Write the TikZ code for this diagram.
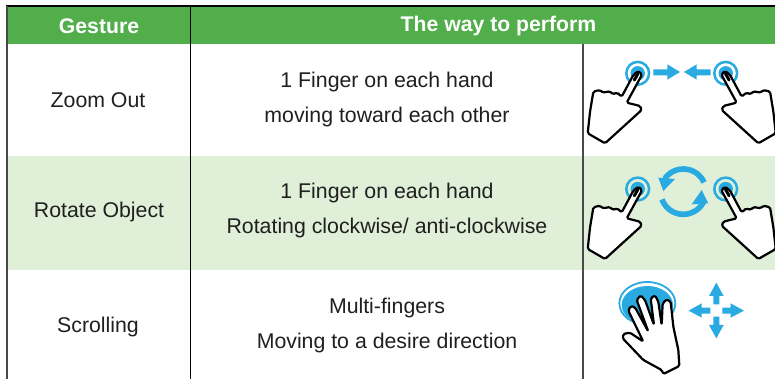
\documentclass[tikz,border=0pt]{standalone}
\usepackage{fontspec}
\setmainfont{Liberation Sans}
\definecolor{hdrgreen}{HTML}{51AE4A}
\definecolor{rowgreen}{HTML}{DFEFD8}
\definecolor{gblue}{HTML}{29ABE2}
\definecolor{rule}{HTML}{4A4A4A}
\tikzset{
  cell/.style={font=\fontsize{21.3}{25}\selectfont,text=black!88,align=center,inner sep=0pt},
  hdr/.style={font=\fontsize{21.2}{25}\selectfont\bfseries,text=white,inner sep=0pt},
  handline/.style={draw=black,fill=white,line width=2.2pt,line join=round,rounded corners=1.5pt},
  zoomu/.style={x=0.3333pt,y=-0.3333pt}
}
% one-finger hand: origin on the touch circle's centre
\newcommand\onefinger[3]{%
  \begin{scope}[shift={(#1,#2)},xscale=#3]
    \fill[gblue] (0,0) circle (7.2pt);
    \draw[gblue,line width=2.5pt] (0,0) circle (11.4pt);
    \begin{scope}[zoomu]
    \draw[handline] (2,-7) -- (13,4) -- (-33,88) -- (7,98) -- (12,110) -- (-43,160) -- (-98,210)
      -- (-150,180) -- (-143,115) -- (-133,55) -- (-113,50) -- (-105,58) -- (-83,54) -- (-75,63) -- (-62,58)
      -- (-48,70) -- (-13,5) -- cycle;
    \end{scope}
    \draw[line width=3pt,line cap=round] (0.3,0.3) -- (-3.4,6.8);
  \end{scope}}
\begin{document}
\begin{tikzpicture}[x=1pt,y=-1pt]
\useasboundingbox (0,0) rectangle (775,379);
% bands
\fill[hdrgreen] (7,6) rectangle (775,44);
\fill[rowgreen] (7,156) rectangle (775,270);
% rules
\draw[black,line width=1.4pt] (6,6) -- (775,6);
\draw[rule,line width=2pt] (7,6) -- (7,379);
\draw[black,line width=1.2pt] (190.5,6) -- (190.5,379);
\draw[rule,line width=1.5pt] (583,44) -- (583,379);
% header
\node[hdr] (h1) at (99,26) {Gesture};
\node[hdr] (h2) at (498.5,26) {The way to perform};
% row 1
\node[cell] (g1) at (98,100.5) {Zoom Out};
\node[cell] (p1a) at (387,82.2) {1 Finger on each hand};
\node[cell] (p1b) at (387,117.2) {moving toward each other};
% row 2
\node[cell] (g2) at (99,212.2) {Rotate Object};
\node[cell] (p2a) at (387,193.2) {1 Finger on each hand};
\node[cell] (p2b) at (387,228.2) {Rotating clockwise/ anti-clockwise};
% row 3
\node[cell] (g3) at (98,327.2) {Scrolling};
\node[cell] (p3a) at (387,308.2) {Multi-fingers};
\node[cell] (p3b) at (387,343.2) {Moving to a desire direction};
% row 1 icon
\onefinger{637.7}{73.3}{1}
\onefinger{725.7}{73.3}{-1}
\begin{scope}[shift={(580,45)},zoomu]
  \fill[gblue] (220,73)--(262,73)--(262,58)--(300,81)--(262,104)--(262,91)--(220,91)--cycle;
  \fill[gblue] (392,73)--(350,73)--(350,58)--(312,81)--(350,104)--(350,91)--(392,91)--cycle;
\end{scope}
% row 2 icon
\onefinger{637.7}{189}{1}
\onefinger{725.7}{189}{-1}
\begin{scope}[shift={(580,155)},zoomu]
  \draw[gblue,line width=5.6pt] plot[smooth,domain=24:145,samples=20] ({310+68*cos(\x)},{110-68*sin(\x)});
  \fill[gblue] (235,68)--(285,72)--(250,108)--cycle;
  \draw[gblue,line width=5.6pt] plot[smooth,domain=200:335,samples=20] ({310+68*cos(\x)},{110-68*sin(\x)});
  \fill[gblue] (385,145)--(335,148)--(365,105)--cycle;
\end{scope}
% row 3 icon
\begin{scope}[shift={(580,270)},zoomu]
  \draw[gblue,line width=1.8pt] (202,100) ellipse [x radius=84,y radius=64];
  \fill[gblue] (202,105) ellipse [x radius=77,y radius=57];
  \draw[handline] (250,312) -- (298,288) -- (295,240) -- (280,170) -- (272,95) -- (260,88) -- (248,100)
    -- (245,165) -- (235,95) -- (225,76) -- (212,85) -- (222,165) -- (195,90) -- (182,76) -- (170,90)
    -- (205,185) -- (165,112) -- (152,108) -- (145,122) -- (190,215) -- (150,188) -- (130,192)
    -- (128,205) -- (190,270) -- (245,300) -- cycle;
  \fill[gblue] (409,38)--(431,78)--(418,78)--(418,103)--(400,103)--(400,78)--(387,78)--cycle;
  \fill[gblue] (409,205)--(431,165)--(418,165)--(418,140)--(400,140)--(400,165)--(387,165)--cycle;
  \fill[gblue] (326,122)--(365,100)--(365,113)--(391,113)--(391,131)--(365,131)--(365,143)--cycle;
  \fill[gblue] (492,122)--(452,100)--(452,113)--(427,113)--(427,131)--(452,131)--(452,143)--cycle;
\end{scope}
\end{tikzpicture}
\end{document}
